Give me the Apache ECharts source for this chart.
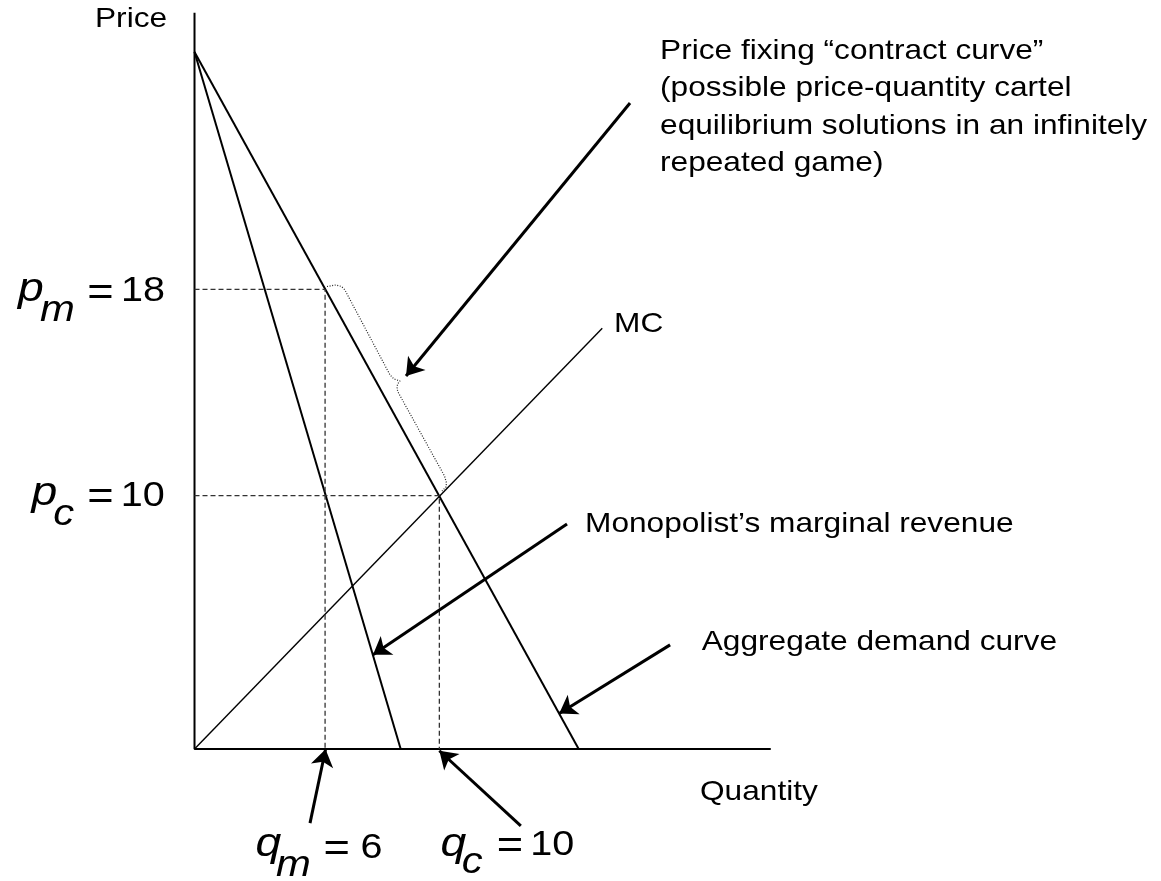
<!DOCTYPE html>
<html><head><meta charset="utf-8">
<script src="https://cdn.jsdelivr.net/npm/echarts@6/dist/echarts.min.js"></script>
<style>html,body{margin:0;padding:0;background:#fff}#c{width:1161px;height:881px}</style>
</head><body><div id="c"></div>
<script>
// ---------- values (quantity, price) ----------
const axisTop = 29.0;
const axisRight = 23.7;
const demandCurve = [[0, 27.45], [15.8, 0]];
const marginalRevenue = [[0, 27.45], [8.48, 0]];
const marginalCost = [[0, 0], [16.77, 16.57]];
const monopolyPoint = [5.37, 18.1];      // (q_m, p_m) as plotted
const competitivePoint = [10.07, 9.98];  // (q_c, p_c) as plotted
const priceLabels = ['18', '10'];
const quantityLabels = ['6', '10'];
const contractBrace = [[5.45,18.216],[5.82,18.276],[6.046,18.216],[6.19,18.079],[6.272,17.921],
  [8.041,14.731],[8.205,14.573],[8.452,14.494],[8.349,14.376],[8.329,14.179],[8.39,14.022],
  [10.282,10.753],[10.364,10.477],[10.344,10.319],[10.179,10.162]];
const annotationArrows = [
  [[17.912, 25.444], [8.699, 14.691]],  // contract curve
  [[15.32, 8.86], [7.34, 3.71]],        // marginal revenue
  [[19.56, 4.1], [15.0, 1.4]],          // demand
  [[4.75, -2.92], [5.39, -0.01]],       // q_m
  [[13.42, -3.03], [10.07, -0.07]]      // q_c
];
const curveTexts = ['Price', 'Quantity', 'MC', 'Monopolist\u2019s marginal revenue', 'Aggregate demand curve'];
const contractText = ['Price fixing \u201ccontract curve\u201d', '(possible price-quantity cartel',
  'equilibrium solutions in an infinitely', 'repeated game)'];

// ---------- layout (anchors in chart units) ----------
const FONT = "'Liberation Sans', Arial, sans-serif";
const STRETCH = 1.13;
const curveTextAnchors = [[-4.092, 28.749], [20.79, -1.713], [17.254, 16.708], [16.061, 8.831], [20.86, 4.195]];
const contractX = 19.146;
const contractY = [27.492, 26.015, 24.538, 23.061];
const texts = [];
curveTexts.forEach((t, i) => texts.push({text: t, at: curveTextAnchors[i], size: 28, align: 'left'}));
contractText.forEach((t, i) => texts.push({text: t, at: [contractX, contractY[i]], size: 28, align: 'left'}));
function addMath(v, sub, value, a) {
  texts.push({text: v, at: a.v, size: 41, italic: true, align: 'left'});
  texts.push({text: sub, at: a.s, size: 37, italic: true, align: 'left'});
  texts.push({text: '=', at: a.e, size: 40, align: 'center'});
  texts.push({text: value, at: a.n, size: 35, align: 'right'});
}
addMath('p', 'm', priceLabels[0], {v: [-7.259, 18.087], s: [-6.354, 17.271], e: [-3.866, 17.921], n: [-1.213, 18.008]});
addMath('p', 'c', priceLabels[1], {v: [-6.704, 10.075], s: [-5.807, 9.236], e: [-3.866, 9.874], n: [-1.226, 9.933]});
addMath('q', 'm', quantityLabels[0], {v: [2.509, -3.785], s: [3.352, -4.6], e: [5.848, -3.978], n: [7.732, -3.919]});
addMath('q', 'c', quantityLabels[1], {v: [10.118, -3.785], s: [10.99, -4.482], e: [12.976, -3.848], n: [15.621, -3.789]});

function lineSeries(data, style) {
  return {type: 'line', data: data, showSymbol: false, symbol: 'none', silent: true, lineStyle: style, z: 2};
}
const chart = echarts.init(document.getElementById('c'), null, {renderer: 'canvas'});
chart.setOption({
  animation: false,
  backgroundColor: '#ffffff',
  grid: {left: 0, right: 0, top: 0, bottom: 0},
  xAxis: {type: 'value', min: -8, max: 39.75, show: false},
  yAxis: {type: 'value', min: -5.2, max: 29.5, show: false},
  series: [
    lineSeries([[0, axisTop], [0, 0], [axisRight, 0]], {color: '#000', width: 2}),
    lineSeries(demandCurve, {color: '#000', width: 2}),
    lineSeries(marginalRevenue, {color: '#000', width: 2}),
    lineSeries(marginalCost, {color: '#000', width: 1.4}),
    lineSeries([[0, monopolyPoint[1]], monopolyPoint, [monopolyPoint[0], 0]], {color: '#333', width: 1.3, type: [5, 3]}),
    lineSeries([[0, competitivePoint[1]], competitivePoint, [competitivePoint[0], 0]], {color: '#333', width: 1.3, type: [5, 3]}),
    lineSeries(contractBrace, {color: '#222', width: 1.2, type: [1, 1.6]}),
    {
      type: 'lines', coordinateSystem: 'cartesian2d', silent: true, z: 3,
      symbol: ['none', 'arrow'], symbolSize: 17,
      lineStyle: {color: '#000', width: 3, opacity: 1, curveness: 0},
      data: annotationArrows.map(a => ({coords: a}))
    }
  ]
});
const graphics = texts.map(t => {
  const p = chart.convertToPixel({gridIndex: 0}, t.at);
  return {
    type: 'text', x: p[0], y: p[1], scaleX: STRETCH, scaleY: 1, silent: true, z: 10,
    style: {
      text: t.text, fill: '#000', fontFamily: FONT, fontSize: t.size,
      fontStyle: t.italic ? 'italic' : 'normal',
      align: t.align, textAlign: t.align, verticalAlign: 'middle', textVerticalAlign: 'middle'
    }
  };
});
chart.setOption({graphic: {elements: graphics}});
</script></body></html>
